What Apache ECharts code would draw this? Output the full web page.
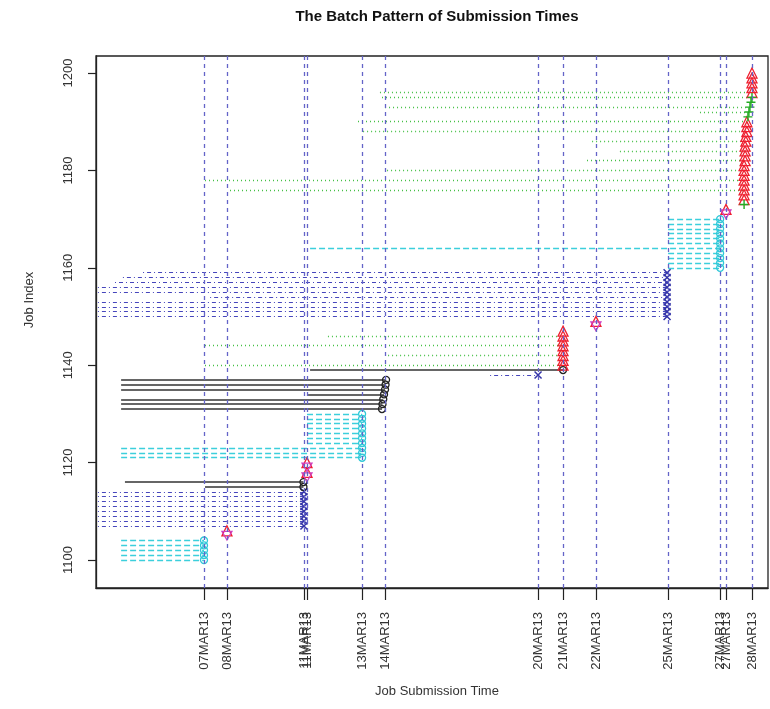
<!DOCTYPE html>
<html><head><meta charset="utf-8">
<script src="https://cdn.jsdelivr.net/npm/echarts@6/dist/echarts.min.js"></script>
<style>html,body{margin:0;padding:0;background:#fff}#c{width:770px;height:709px}</style>
</head><body><div id="c"></div>
<script>
// ---- tick data ----
const yTicks = [1100, 1120, 1140, 1160, 1180, 1200];
const tickTimes = [7.30, 8.20, 11.22, 11.34, 13.50, 14.40, 20.40, 21.38, 22.67, 25.50, 27.54, 27.77, 28.79];
const tickLabels = ['07MAR13','08MAR13','11MAR13','11MAR13','13MAR13','14MAR13','20MAR13','21MAR13','22MAR13','25MAR13','27MAR13','27MAR13','28MAR13'];

// ---- job data (time = day of March 2013, fractional) ----
const jobIndex = [
  1100,1101,1102,1103,1104,
  1105,1106,
  1107,1108,1109,1110,1111,1112,1113,1114,
  1115,1116,
  1117,1118,1119,1120,
  1121,1122,1123,1124,1125,1126,1127,1128,1129,1130,
  1131,1132,1133,1134,1135,1136,1137,
  1138,
  1139,
  1140,1141,1142,1143,1144,1145,1146,1147,
  1148,1149,
  1150,1151,1152,1153,1154,1155,1156,1157,1158,1159,
  1160,1161,1162,1163,1164,1165,1166,1167,1168,1169,1170,
  1171,1172,
  1173,1174,1175,1176,1177,1178,1179,1180,1181,1182,1183,1184,1185,1186,1187,
  1188,1189,1190,1191,1192,1193,1194,1195,1196,1197,1198,1199,1200
];
const submitTime = [
  7.30,7.30,7.30,7.30,7.30,
  8.20,8.20,
  11.22,11.22,11.22,11.22,11.22,11.22,11.22,11.22,
  11.20,11.20,
  11.34,11.34,11.34,11.34,
  13.50,13.50,13.50,13.50,13.50,13.50,13.50,13.50,13.50,13.50,
  14.28,14.30,14.33,14.36,14.40,14.42,14.44,
  20.40,
  21.38,
  21.38,21.38,21.38,21.38,21.38,21.38,21.38,21.38,
  22.67,22.67,
  25.46,25.46,25.46,25.46,25.46,25.46,25.46,25.46,25.46,25.46,
  27.54,27.54,27.54,27.54,27.54,27.54,27.54,27.54,27.54,27.54,27.54,
  27.77,27.77,
  28.48,28.48,28.48,28.48,28.48,28.48,28.48,28.48,28.48,28.52,28.52,28.52,28.52,28.55,28.55,
  28.59,28.59,28.59,28.63,28.67,28.71,28.75,28.79,28.79,28.79,28.79,28.79,28.79
];
const startTime = [
  4.05,4.05,4.05,4.05,4.05,
  null,null,
  3.14,3.14,3.14,3.14,3.14,3.14,3.14,3.14,
  7.34,4.20,
  null,null,null,null,
  4.05,4.05,4.05,11.34,11.34,11.34,11.34,11.34,11.34,11.34,
  4.05,4.05,4.05,11.38,4.05,4.05,4.05,
  18.52,
  11.46,
  7.34,null,14.52,null,7.34,null,12.16,null,
  null,null,
  3.14,3.14,3.14,3.14,7.54,3.14,3.14,3.81,4.12,4.91,
  25.50,25.50,25.50,25.50,11.46,25.50,25.50,25.50,25.50,25.50,25.50,
  null,null,
  null,null,null,8.32,null,7.34,null,14.48,null,22.32,null,23.61,null,22.52,null,
  13.54,null,13.34,null,26.75,14.40,null,14.28,14.20,null,null,null,null
];
// marker kind: o cyan circle, x blue cross, k black circle, ^ red triangle, v magenta down triangle, + green plus
const markKind = [
  'o','o','o','o','o',
  'v','^',
  'x','x','x','x','x','x','x','x',
  'k','k',
  'v','^','v','^',
  'o','o','o','o','o','o','o','o','o','o',
  'k','k','k','k','k','k','k',
  'x',
  'k',
  '^','^','^','^','^','^','^','^',
  'v','^',
  'x','x','x','x','x','x','x','x','x','x',
  'o','o','o','o','o','o','o','o','o','o','o',
  'v','^',
  '+','^','^','^','^','^','^','^','^','^','^','^','^','^','^',
  '^','^','^','+','+','+','+','+','^','^','^','^','^'
];

// ---- styles ----
const lineStyles = {
  C: {color: '#3ccfdc', width: 1.3, type: [6, 3]},
  B: {color: '#4646bc', width: 1.2, type: [1, 3, 4, 3]},
  G: {color: '#46c046', width: 1.3, type: [1, 3]},
  K: {color: '#333333', width: 1.5, type: 'solid'}
};
const markerLine = {o: 'C', x: 'B', k: 'K', '^': 'G', 'v': 'G', '+': 'G'};
const markerStyles = {
  o: {symbol: 'circle', size: 7, color: '#30c8d8', w: 1.3},
  x: {symbol: 'path://M0,0L10,10M10,0L0,10', size: 7, color: '#3434a8', w: 1.5},
  k: {symbol: 'circle', size: 7, color: '#222222', w: 1.3},
  '^': {symbol: 'triangle', size: 10, color: '#ee2030', w: 1.3},
  'v': {symbol: 'path://M0,0L10,0L5,8.66Z', size: 10, color: '#d040c0', w: 1.3},
  '+': {symbol: 'path://M5,0L5,10M0,5L10,5', size: 9, color: '#22aa22', w: 1.4}
};

const series = [];
Object.keys(lineStyles).forEach(function (k) {
  const data = [];
  for (let i = 0; i < jobIndex.length; i++) {
    if (startTime[i] === null) continue;
    if (markerLine[markKind[i]] !== k) continue;
    data.push({coords: [[startTime[i], jobIndex[i]], [submitTime[i], jobIndex[i]]]});
  }
  series.push({
    type: 'lines', coordinateSystem: 'cartesian2d', silent: true, z: 3,
    lineStyle: Object.assign({opacity: 1}, lineStyles[k]),
    data: data
  });
});
Object.keys(markerStyles).forEach(function (m) {
  const st = markerStyles[m];
  const data = [];
  for (let i = 0; i < jobIndex.length; i++) {
    if (markKind[i] === m) data.push([submitTime[i], jobIndex[i]]);
  }
  series.push({
    type: 'scatter', silent: true, z: 4,
    symbol: st.symbol, symbolSize: st.size, symbolKeepAspect: true,
    itemStyle: {color: 'rgba(0,0,0,0)', borderColor: st.color, borderWidth: st.w, opacity: 1},
    data: data
  });
});
// vertical reference lines at batch times
series.push({
  type: 'line', data: [], silent: true, z: 1,
  markLine: {
    silent: true, symbol: ['none', 'none'], animation: false,
    label: {show: false},
    lineStyle: {color: '#6464c8', width: 1.3, type: [4, 4], opacity: 1},
    emphasis: {disabled: true},
    data: tickTimes.map(function (t) { return {xAxis: t}; })
  }
});

function labelFor(v) {
  let best = 0, bd = Infinity;
  for (let i = 0; i < tickTimes.length; i++) {
    const d = Math.abs(tickTimes[i] - v);
    if (d < bd) { bd = d; best = i; }
  }
  return tickLabels[best];
}

const font = "'Liberation Sans', Arial, sans-serif";
const chart = echarts.init(document.getElementById('c'));
chart.setOption({
  animation: false,
  backgroundColor: '#ffffff',
  grid: {left: 96, right: 2, top: 56, bottom: 121, show: true, borderColor: '#222', borderWidth: 1.3, containLabel: false},
  xAxis: {
    type: 'value', min: 3.065, max: 29.418,
    splitLine: {show: false},
    axisLine: {show: true, onZero: false, lineStyle: {color: '#222', width: 1.3}},
    axisTick: {show: true, customValues: tickTimes, length: 12, lineStyle: {color: '#222', width: 1.2}},
    axisLabel: {customValues: tickTimes, formatter: labelFor, rotate: 90, margin: 24, fontSize: 13, color: '#333', fontFamily: font, hideOverlap: false}
  },
  yAxis: {
    type: 'value', min: 1094.25, max: 1203.5,
    splitLine: {show: false},
    axisLine: {show: true, onZero: false, lineStyle: {color: '#222', width: 1.3}},
    axisTick: {show: true, customValues: yTicks, length: 8, lineStyle: {color: '#222', width: 1.2}},
    axisLabel: {customValues: yTicks, formatter: function (v) { return String(v); }, rotate: 90, margin: 21, fontSize: 13, color: '#333', fontFamily: font}
  },
  graphic: [
    {type: 'text', x: 437, y: 17, style: {text: 'The Batch Pattern of Submission Times', font: "bold 15px 'Liberation Sans', Arial", fill: '#111', textAlign: 'center', textVerticalAlign: 'middle'}},
    {type: 'text', x: 437, y: 691, style: {text: 'Job Submission Time', font: "13px 'Liberation Sans', Arial", fill: '#333', textAlign: 'center', textVerticalAlign: 'middle'}},
    {type: 'text', x: 29, y: 300, rotation: Math.PI / 2, style: {text: 'Job Index', font: "13px 'Liberation Sans', Arial", fill: '#333', textAlign: 'center', textVerticalAlign: 'middle'}}
  ],
  series: series
});
</script>
</body></html>
